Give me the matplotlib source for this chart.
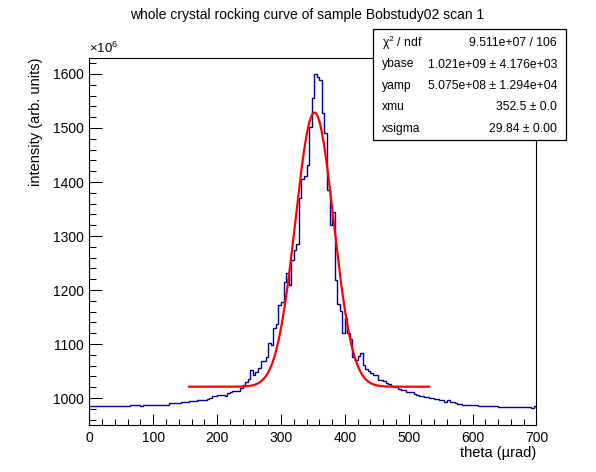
"""Rocking curve of sample Bobstudy02, scan 1, with gaussian + baseline fit."""
import matplotlib
matplotlib.use("Agg")
import matplotlib.pyplot as plt
import numpy as np
from matplotlib.ticker import MultipleLocator

plt.rcParams.update({
    "font.family": ["Liberation Sans", "DejaVu Sans"],
    "mathtext.fontset": "custom",
    "mathtext.rm": "Liberation Sans",
    "mathtext.it": "Liberation Sans:italic",
})

# histogram: 175 bins of 4 urad from 0 to 700, contents in units of 1e6
BIN_LO, BIN_HI, NBINS = 0.0, 700.0, 175
COUNTS = (
    [985.2] * 16 + [986.5] * 4 + [985.5] + [987.0] * 2 + [987.7] * 8
    + [990.1] * 5 + [992.0] * 3 + [993.8] * 3 + [996.3] * 4
    + [998.8, 1000.0, 1003.7, 1003.7, 1006.2, 1006.2, 1006.2, 1003.7,
       1010.0, 1011.0, 1013.0, 1013.0, 1013.0, 1018.0, 1025.0, 1030.0,
       1034.5, 1052.0, 1042.5, 1048.7, 1055.0, 1068.5, 1068.5, 1076.5,
       1101.0, 1098.0, 1130.0, 1138.0, 1172.0, 1178.0, 1215.0, 1232.0,
       1209.0, 1255.0, 1274.0, 1286.0, 1370.0, 1405.0, 1411.0, 1431.0,
       1502.0, 1555.0, 1600.0, 1595.0, 1588.0, 1528.0, 1490.0, 1385.0,
       1320.0, 1345.0, 1218.0, 1175.0, 1162.0, 1121.0, 1148.0, 1121.0,
       1110.0, 1076.0, 1070.0, 1078.0, 1083.0, 1061.0, 1053.0, 1050.0,
       1046.0, 1043.0, 1043.0, 1033.0, 1033.0, 1031.0, 1027.0, 1026.0,
       1023.0, 1020.0, 1020.0, 1017.0, 1015.0, 1015.0, 1012.0, 1010.5,
       1012.0, 1008.0, 1005.5, 1003.7, 1003.7, 1001.2, 1001.2, 999.4,
       999.4, 997.5, 997.5, 995.7, 995.7, 992.6, 995.7, 992.6,
       992.6, 990.1, 988.9, 988.9]
    + [987.0] * 6 + [985.2] * 8 + [982.7] * 13 + [980.9, 985.0]
)

# fit parameters as printed in the stats box
YBASE, YAMP, XMU, XSIGMA = 1.021e9, 5.075e8, 352.5, 29.84
FIT_RANGE = (156.0, 532.0)

STAT_NAMES = ["χ$^{2}$ / ndf", "ybase", "yamp", "xmu", "xsigma"]
STAT_VALUES = ["9.511e+07 / 106", "1.021e+09 ± 4.176e+03",
               "5.075e+08 ± 1.294e+04", "352.5 ± 0.0", "29.84 ± 0.00"]

W, H = 596, 472
fig = plt.figure(figsize=(W / 100, H / 100), dpi=100)
ax = fig.add_axes([0.15, 0.1006, 0.75, 0.777])

edges = np.linspace(BIN_LO, BIN_HI, NBINS + 1)
ax.stairs(COUNTS, edges, baseline=None, color="#000099", linewidth=1.0)

xf = np.linspace(*FIT_RANGE, 600)
yf = (YBASE + YAMP * np.exp(-0.5 * ((xf - XMU) / XSIGMA) ** 2)) / 1e6
ax.plot(xf, yf, color="red", linewidth=1.6)

ax.set_xlim(BIN_LO, BIN_HI)
ax.set_ylim(951, 1630)
ax.xaxis.set_major_locator(MultipleLocator(100))
ax.xaxis.set_minor_locator(MultipleLocator(20))
ax.yaxis.set_major_locator(MultipleLocator(100))
ax.yaxis.set_minor_locator(MultipleLocator(20))
ax.tick_params(which="both", direction="in", top=False, right=False,
               labelsize=10, width=0.75)
ax.tick_params(axis="x", which="major", length=7.9, pad=5)
ax.tick_params(axis="x", which="minor", length=4.0)
ax.tick_params(axis="y", which="major", length=9.6, pad=4)
ax.tick_params(axis="y", which="minor", length=4.8)
for sp in ax.spines.values():
    sp.set_linewidth(0.8)

ax.set_xlabel("theta (µrad)", fontsize=10.5, loc="right")
ax.xaxis.set_label_coords(1.0, -0.058)
ax.set_ylabel("intensity (arb. units)", fontsize=10.5, loc="top")
ax.yaxis.set_label_coords(-0.103, 1.0)
ax.text(0.0, 1.004, r"×10$^{6}$", transform=ax.transAxes,
        fontsize=9.5, ha="left", va="bottom")

fig.text(0.515, 1 - 15 / H, "whole crystal rocking curve of sample Bobstudy02 scan 1",
         ha="center", va="center", fontsize=10)

# stats box drawn over the frame
bx0, bx1, by0, by1 = 373, 566, 29, 140
fig.add_artist(plt.Rectangle((bx0 / W, 1 - by1 / H), (bx1 - bx0) / W,
                             (by1 - by0) / H, transform=fig.transFigure,
                             facecolor="white", edgecolor="black",
                             linewidth=0.9, zorder=5))
for k, (name, val) in enumerate(zip(STAT_NAMES, STAT_VALUES)):
    yc = 1 - (by0 + 14 + 21.5 * k) / H
    fig.text((bx0 + 9) / W, yc, name, ha="left", va="center",
             fontsize=8.7, zorder=6)
    fig.text((bx1 - 9) / W, yc, val, ha="right", va="center",
             fontsize=8.7, zorder=6)

fig.savefig("out.png", dpi=100)
